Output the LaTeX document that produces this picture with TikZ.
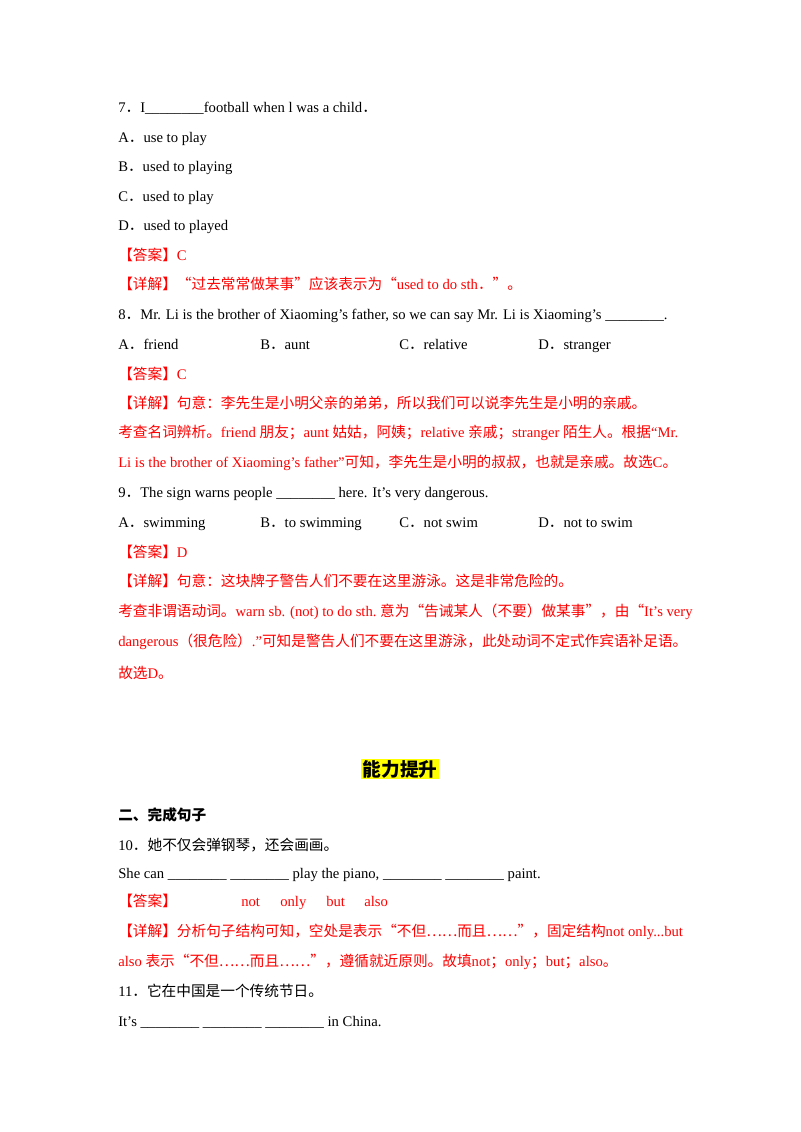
\documentclass[tikz,border=0pt]{standalone}
\usepackage{fontspec}
\setmainfont{Liberation Serif}
\newfontfamily\zh{Noto Sans CJK SC}
\newcommand\fdot{{\zh ．}}
\definecolor{ansred}{RGB}{255,0,0}
\definecolor{hlyellow}{RGB}{255,255,0}
\usetikzlibrary{positioning}

\begin{document}
\begin{tikzpicture}[
    x=0.75pt, y=-0.75pt,
    line/.style={anchor=base west, inner sep=0pt, yshift=-3pt, font=\fontsize{11}{13}\selectfont},
    answer/.style={line, text=ansred},
    heading/.style={anchor=base, inner sep=1pt, fill=hlyellow, font=\fontsize{14}{16}\selectfont\zh\bfseries}
]
    \useasboundingbox (0,0) rectangle (800,1132);

    % Question 7
    \node[line] (q7) at (118,108) {7\fdot I\_\_\_\_\_\_\_\_football when l was a child\fdot};
    \node[line] (q7a) at (118,138) {A\fdot use to play};
    \node[line] (q7b) at (118,167) {B\fdot used to playing};
    \node[line] (q7c) at (118,197) {C\fdot used to play};
    \node[line] (q7d) at (118,226) {D\fdot used to played};
    \node[answer] (ans7) at (118,256) {{\zh【答案】}C};
    \node[answer] (exp7) at (118,285) {{\zh【详解】“过去常常做某事”应该表示为“}used to do sth\fdot{\zh ”。}};

    % Question 8
    \node[line] (q8) at (118,315) {8\fdot Mr. Li is the brother of Xiaoming’s father, so we can say Mr. Li is Xiaoming’s \_\_\_\_\_\_\_\_.};
    \node[line] (q8a) at (118,345) {A\fdot friend};
    \node[line] (q8b) at (260,345) {B\fdot aunt};
    \node[line] (q8c) at (399,345) {C\fdot relative};
    \node[line] (q8d) at (538,345) {D\fdot stranger};
    \node[answer] (ans8) at (118,375) {{\zh【答案】}C};
    \node[answer] (exp8) at (118,404) {\zh【详解】句意：李先生是小明父亲的弟弟，所以我们可以说李先生是小明的亲戚。};
    \node[answer] (exp8b) at (118,433) {{\zh 考查名词辨析。}friend {\zh 朋友；}aunt {\zh 姑姑，阿姨；}relative {\zh 亲戚；}stranger {\zh 陌生人。根据}“Mr.};
    \node[answer] (exp8c) at (118,463) {Li is the brother of Xiaoming’s father”{\zh 可知，李先生是小明的叔叔，也就是亲戚。故选}C{\zh 。}};

    % Question 9
    \node[line] (q9) at (118,493) {9\fdot The sign warns people \_\_\_\_\_\_\_\_ here. It’s very dangerous.};
    \node[line] (q9a) at (118,523) {A\fdot swimming};
    \node[line] (q9b) at (260,523) {B\fdot to swimming};
    \node[line] (q9c) at (399,523) {C\fdot not swim};
    \node[line] (q9d) at (538,523) {D\fdot not to swim};
    \node[answer] (ans9) at (118,553) {{\zh【答案】}D};
    \node[answer] (exp9) at (118,582) {\zh【详解】句意：这块牌子警告人们不要在这里游泳。这是非常危险的。};
    \node[answer] (exp9b) at (118,612) {{\zh 考查非谓语动词。}warn sb. (not) to do sth.\ {\zh 意为“告诫某人（不要）做某事”，由“}It’s very};
    \node[answer] (exp9c) at (118,642) {dangerous{\zh（很危险）}.”{\zh 可知是警告人们不要在这里游泳，此处动词不定式作宾语补足语。}};
    \node[answer] (exp9d) at (118,674) {{\zh 故选}D{\zh 。}};

    % Section heading
    \node[heading] (title) at (400,776) {能力提升};
    \node[line, font=\fontsize{11}{13}\selectfont\zh\bfseries] (sec2) at (118,816) {二、完成句子};

    % Question 10
    \node[line] (q10) at (118,846) {10\fdot{\zh 她不仅会弹钢琴，还会画画。}};
    \node[line] (q10s) at (118,874) {She can \_\_\_\_\_\_\_\_ \_\_\_\_\_\_\_\_ play the piano, \_\_\_\_\_\_\_\_ \_\_\_\_\_\_\_\_ paint.};
    \node[answer] (ans10) at (118,902) {\zh【答案】};
    \node[answer] (ans10a) at (241,902) {not};
    \node[answer] (ans10b) at (280,902) {only};
    \node[answer] (ans10c) at (326,902) {but};
    \node[answer] (ans10d) at (364,902) {also};
    \node[answer] (exp10) at (118,932) {{\zh【详解】分析句子结构可知，空处是表示“不但……而且……”，固定结构}not only...but};
    \node[answer] (exp10b) at (118,962) {also {\zh 表示“不但……而且……”，遵循就近原则。故填}not{\zh ；}only{\zh ；}but{\zh ；}also{\zh 。}};

    % Question 11
    \node[line] (q11) at (118,992) {11\fdot{\zh 它在中国是一个传统节日。}};
    \node[line] (q11s) at (118,1022) {It’s \_\_\_\_\_\_\_\_ \_\_\_\_\_\_\_\_ \_\_\_\_\_\_\_\_ in China.};
\end{tikzpicture}
\end{document}
